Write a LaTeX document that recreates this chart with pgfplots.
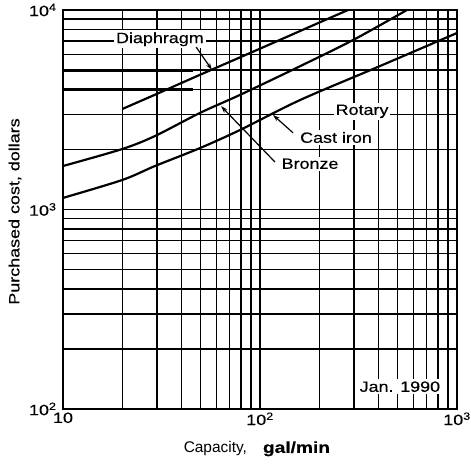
\documentclass[border=0pt]{standalone}
\usepackage{fontspec}
\setmainfont{Liberation Sans}
\newfontfamily\lbl[FakeStretch=1.2, FakeBold=0.4]{Liberation Sans}
\usepackage{pgfplots}
\pgfplotsset{compat=1.18}
\usetikzlibrary{arrows.meta}
\newcommand{\lf}{\lbl\fontsize{15}{18}\selectfont}
\begin{document}
\begin{tikzpicture}
\useasboundingbox (-63bp,-56bp) rectangle (408bp,409bp);
\begin{axis}[
  width=394bp, height=399bp, scale only axis,
  xmode=log, ymode=log,
  xmin=10, xmax=1000, ymin=100, ymax=10000,
  xtick={10,100,1000}, xticklabels={10,10\textsuperscript{2},10\textsuperscript{3}},
  ytick={100,1000,10000}, yticklabels={10\textsuperscript{2},10\textsuperscript{3},10\textsuperscript{4}},
  minor xtick={20,30,40,50,60,70,80,90,200,300,400,500,600,700,800,900},
  minor ytick={200,300,400,500,600,700,800,900,2000,3000,4000,5000,6000,7000,8000,9000},
  grid=both,
  major grid style={black, line width=1.4pt},
  minor grid style={black, line width=1.4pt},
  axis line style={black, line width=2pt},
  major tick length=0pt, minor tick length=0pt,
  tick style={draw=none},
  ticklabel style={font=\lf},
  yticklabel style={xshift=-3bp},
  xlabel={{\fontsize{15.5}{18}\selectfont Capacity,}\hspace{16bp}{\lbl\bfseries\fontsize{16}{19}\selectfont gal/min}},
  ylabel={\lf Purchased cost, dollars},
  xlabel style={at={(rel axis cs:0.492,-0.11)}, anchor=base},
  ylabel style={at={(rel axis cs:-0.122,0.495)}, anchor=center},
]
% Diaphragm
\addplot[black, line width=2.2pt, smooth] coordinates {(20,3190) (30,3800) (50,4750) (100,6400) (200,8650) (280,10000)};
% Bronze
\addplot[black, line width=2.2pt, smooth] coordinates {(10,1652) (20,2010) (29.3,2335) (49.6,3050) (79,3750) (160,5230) (300,7110) (557,10000)};
% Cast iron
\addplot[black, line width=2.2pt, smooth] coordinates {(10,1143) (20,1406) (29.3,1652) (49.6,2032) (79,2500) (160,3540) (400,5200) (1000,7670)};

% scan-like heavy lines
\draw[line width=2.8bp] (rel axis cs:0,0.849) -- (rel axis cs:0.331,0.849);
\draw[line width=2.8bp] (rel axis cs:0,0.801) -- (rel axis cs:0.331,0.801);
\draw[line width=2.8bp] (rel axis cs:0,0.882) -- (rel axis cs:0,0.767);

\node[fill=white, inner sep=2bp, anchor=base, font=\lf] at (rel axis cs:0.246,0.917) {Diaphragm};
\node[fill=white, inner sep=2bp, anchor=base, font=\lf] at (rel axis cs:0.759,0.737) {Rotary};
\node[fill=white, inner sep=2bp, anchor=base, font=\lf] at (rel axis cs:0.693,0.667) {Cast iron};
\node[fill=white, inner sep=2bp, anchor=base, font=\lf] at (rel axis cs:0.627,0.602) {Bronze};
\node[fill=white, inner sep=2bp, anchor=base, font=\lf] at (rel axis cs:0.855,0.043) {Jan. 1990};

\draw[line width=1.2pt, -{Stealth[length=7bp, width=4.5bp]}] (rel axis cs:0.338,0.907) -- (rel axis cs:0.378,0.850);
\draw[line width=1.2pt, -{Stealth[length=7bp, width=4.5bp]}] (rel axis cs:0.584,0.692) -- (rel axis cs:0.533,0.737);
\draw[line width=1.2pt, -{Stealth[length=7bp, width=4.5bp]}] (rel axis cs:0.538,0.619) -- (rel axis cs:0.401,0.759);
\end{axis}
\end{tikzpicture}
\end{document}
